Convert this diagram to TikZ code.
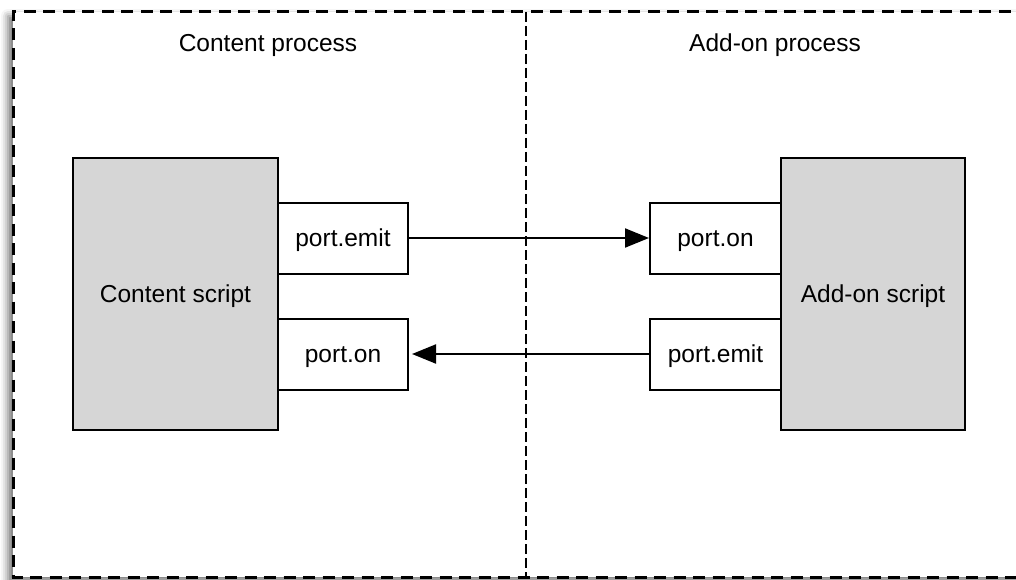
\documentclass[tikz,border=0pt]{standalone}
\usepackage{fontspec}
\setmainfont{Liberation Sans}
\usetikzlibrary{arrows.meta,shadows.blur}
\definecolor{scriptgray}{HTML}{D6D6D6}
\begin{document}
\begin{tikzpicture}[x=1pt,y=-1pt,
  font=\fontsize{24.5}{28}\selectfont,
  every node/.style={text height=17pt,text depth=0pt},
  scriptbox/.style={draw=black,line width=2pt,fill=scriptgray},
  portbox/.style={draw=black,line width=2pt,fill=white},
  msg/.style={line width=2pt,-{Triangle[length=24pt,width=19pt,fill=black]}},
  procframe/.style={line width=3pt,dash pattern=on 12pt off 7.5pt}
]
\useasboundingbox (0,0) rectangle (1016,580);
% process frame with its soft shadow
\fill[white,blur shadow={shadow xshift=-5pt,shadow yshift=-4pt,shadow blur radius=7pt,shadow opacity=55}]
  (13,12) rectangle (1030,577);
\draw[procframe] (1030,12) -- (13,12) -- (13,577) -- (1030,577);
% boundary between the two processes
\coordinate (divtop) at (526,12);
\coordinate (divbot) at (526,577);
\draw[line width=2pt,dash pattern=on 10pt off 4pt] (divtop) -- (divbot);
% process titles
\node (cproc) at (268,43) {Content process};
\node (aproc) at (775,43) {Add-on process};
% content side
\node[scriptbox,minimum width=205pt,minimum height=272pt] (cscript) at (175.5,294) {Content script};
\node[portbox,minimum width=130pt,minimum height=71pt] (cemit) at (343,238) {port.emit};
\node[portbox,minimum width=130pt,minimum height=71pt] (con) at (343,354) {port.on};
% add-on side
\node[scriptbox,minimum width=184pt,minimum height=272pt] (ascript) at (873,294) {Add-on script};
\node[portbox,minimum width=131pt,minimum height=71pt] (aon) at (715.5,238) {port.on};
\node[portbox,minimum width=131pt,minimum height=71pt] (aemit) at (715.5,354) {port.emit};
% messages
\draw[msg] (cemit.east) -- (aon.west);
\draw[msg] (aemit.west) -- ([xshift=3pt]con.east);
\end{tikzpicture}
\end{document}
